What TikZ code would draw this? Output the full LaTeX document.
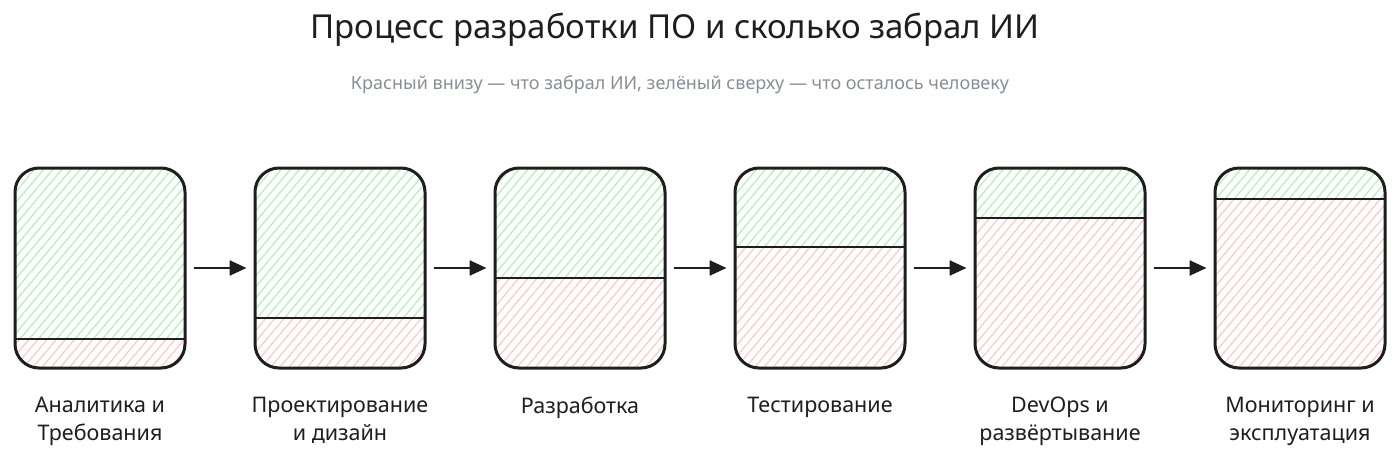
\documentclass[tikz,border=0pt]{standalone}
\usepackage{fontspec}
\setmainfont{Noto Sans}
\usetikzlibrary{patterns.meta,arrows.meta}
\definecolor{hgreen}{HTML}{B2F2BB}
\definecolor{hred}{HTML}{FFC9C9}
\definecolor{subgray}{HTML}{868E96}
\definecolor{ink}{HTML}{1E1E1E}
\pgfdeclarelayer{bg}
\pgfsetlayers{bg,main}
\begin{document}
\begin{tikzpicture}[x=1pt,y=-1pt,
  stagebox/.style={draw=ink,line width=3pt,rounded corners=24pt,minimum width=170pt,minimum height=200pt,inner sep=0pt},
  greenhatch/.style={pattern={Lines[angle=50,distance=7pt,line width=1.3pt]},pattern color=hgreen},
  redhatch/.style={pattern={Lines[angle=50,distance=7pt,line width=1.3pt]},pattern color=hred},
  divider/.style={draw=ink,line width=2pt},
  flow/.style={draw=ink,line width=2.5pt,-{Triangle[length=17pt,width=15pt]},shorten <=7pt,shorten >=7pt},
  stagelabel/.style={font=\fontsize{21.5}{28}\selectfont,text=ink,align=center,anchor=north,inner sep=0pt},
  titletext/.style={font=\fontsize{33}{38}\selectfont,text=ink},
  subtext/.style={font=\fontsize{18}{22}\selectfont,text=subgray}]
\useasboundingbox (0,0) rectangle (1400,461);
\node[titletext] (title) at (675,30) {Процесс разработки ПО и сколько забрал ИИ};
\node[subtext] (subtitle) at (680,85) {Красный внизу — что забрал ИИ, зелёный сверху — что осталось человеку};
\foreach \i/\cx/\dy/\la in {1/100/339/{Аналитика и\\Требования},2/340/318/{Проектирование\\и дизайн},3/580/278/{Разработка},4/820/247/{Тестирование},5/1060/218/{DevOps и\\развёртывание},6/1300/199/{Мониторинг и\\эксплуатация}}{
  \node[stagebox] (b\i) at (\cx,268) {};
  \begin{pgfonlayer}{bg}
    \begin{scope}
      \clip[rounded corners=24pt] (\cx-85,168) rectangle (\cx+85,368);
      \fill[greenhatch] (\cx-85,168) rectangle (\cx+85,\dy);
      \fill[redhatch] (\cx-85,\dy) rectangle (\cx+85,368);
    \end{scope}
  \end{pgfonlayer}
  \coordinate (dl\i) at (\cx-85,\dy);
  \coordinate (dr\i) at (\cx+85,\dy);
  \draw[divider] (dl\i) -- (dr\i);
  \node[stagelabel] (l\i) at (\cx,397) {\la};
}
\foreach \a/\b in {1/2,2/3,3/4,4/5,5/6}{
  \draw[flow] (b\a) -- (b\b);
}
\end{tikzpicture}
\end{document}
